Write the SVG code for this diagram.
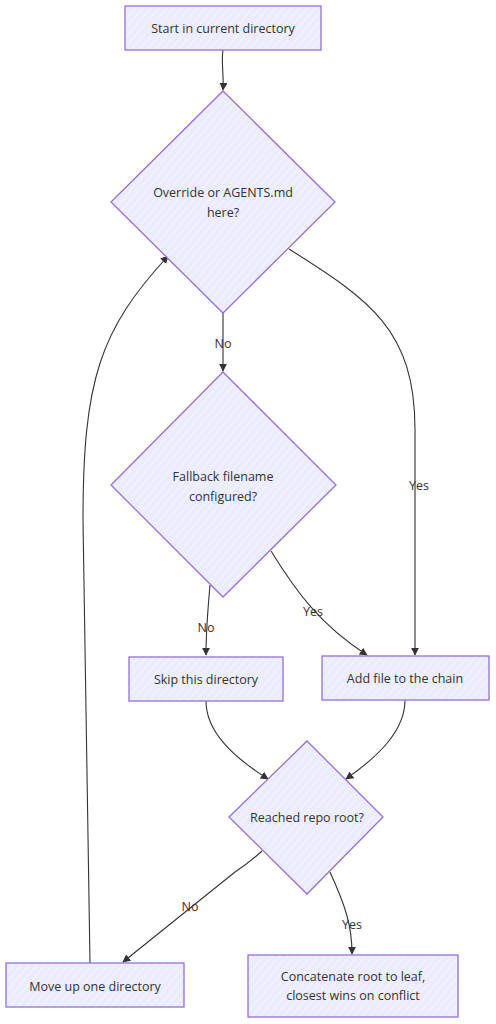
<svg xmlns="http://www.w3.org/2000/svg" width="496" height="1024" viewBox="0 0 496 1024">
<defs>
<pattern id="hatch" patternUnits="userSpaceOnUse" width="6" height="6" patternTransform="rotate(40)">
<rect width="6" height="6" fill="#ececff"/>
<line x1="0" y1="0" x2="0" y2="6" stroke="#ffffff" stroke-width="1" opacity="0.7"/>
</pattern>
<marker id="arr" viewBox="0 0 10 10" refX="9" refY="5" markerWidth="8" markerHeight="8" markerUnits="userSpaceOnUse" orient="auto">
<path d="M0,0 L10,5 L0,10 z" fill="#333"/>
</marker>
</defs>
<style>
.node{fill:url(#hatch);stroke:#9370db;stroke-width:1.3}
.lbl{font-family:"Open Sans","Noto Sans",sans-serif;font-size:12.5px;fill:#333;text-anchor:middle;dominant-baseline:central}
.edge{fill:none;stroke:#333;stroke-width:1.1;marker-end:url(#arr)}
.elbl{font-family:"Open Sans","Noto Sans",sans-serif;font-size:12.5px;fill:#333;text-anchor:middle;dominant-baseline:central}
</style>
<rect width="496" height="1024" fill="#ffffff"/>
<g id="edges">
<path class="edge" d="M223,50 C221,62 224,75 223,90"/>
<path class="edge" d="M223,313 L223,371"/>
<path class="edge" d="M289,249 C370,300 415,330 415,430 L415,655"/>
<path class="edge" d="M210,585 C207,620 206,630 206,655"/>
<path class="edge" d="M271,551 C295,590 320,625 367,655"/>
<path class="edge" d="M206,701 C206,730 230,755 268,779"/>
<path class="edge" d="M405,700 C405,730 380,755 346,779"/>
<path class="edge" d="M262,851 Q250,862 235,872 L123,962"/>
<path class="edge" d="M330,872 C345,905 352,925 352,954"/>
<path class="edge" d="M90,963 L83,520 C83,380 100,330 168,256"/>
<text class="elbl" x="223" y="343">No</text>
<text class="elbl" x="419" y="485">Yes</text>
<text class="elbl" x="206" y="627">No</text>
<text class="elbl" x="313" y="611">Yes</text>
<text class="elbl" x="190" y="906">No</text>
<text class="elbl" x="352" y="924">Yes</text>
</g>
<g id="start">
<rect class="node" x="125" y="6" width="196" height="44"/>
<text class="lbl" x="223" y="28">Start in current directory</text>
</g>
<g id="checkOverride">
<polygon class="node" points="223,91 335,202 223,313 111,202"/>
<text class="lbl" x="223" y="192">Override or AGENTS.md</text>
<text class="lbl" x="223" y="212">here?</text>
</g>
<g id="checkFallback">
<polygon class="node" points="223,372 336,485 223,597 111,485"/>
<text class="lbl" x="223" y="476">Fallback filename</text>
<text class="lbl" x="223" y="496">configured?</text>
</g>
<g id="skip">
<rect class="node" x="129" y="657" width="154" height="44"/>
<text class="lbl" x="206" y="679">Skip this directory</text>
</g>
<g id="add">
<rect class="node" x="322" y="656" width="167" height="44"/>
<text class="lbl" x="405" y="678">Add file to the chain</text>
</g>
<g id="reachedRoot">
<polygon class="node" points="307,741 383,817 307,894 229,817"/>
<text class="lbl" x="307" y="817">Reached repo root?</text>
</g>
<g id="moveUp">
<rect class="node" x="6" y="963" width="178" height="44"/>
<text class="lbl" x="95" y="986">Move up one directory</text>
</g>
<g id="concat">
<rect class="node" x="248" y="955" width="210" height="62"/>
<text class="lbl" x="353" y="976">Concatenate root to leaf,</text>
<text class="lbl" x="353" y="995">closest wins on conflict</text>
</g>
</svg>
